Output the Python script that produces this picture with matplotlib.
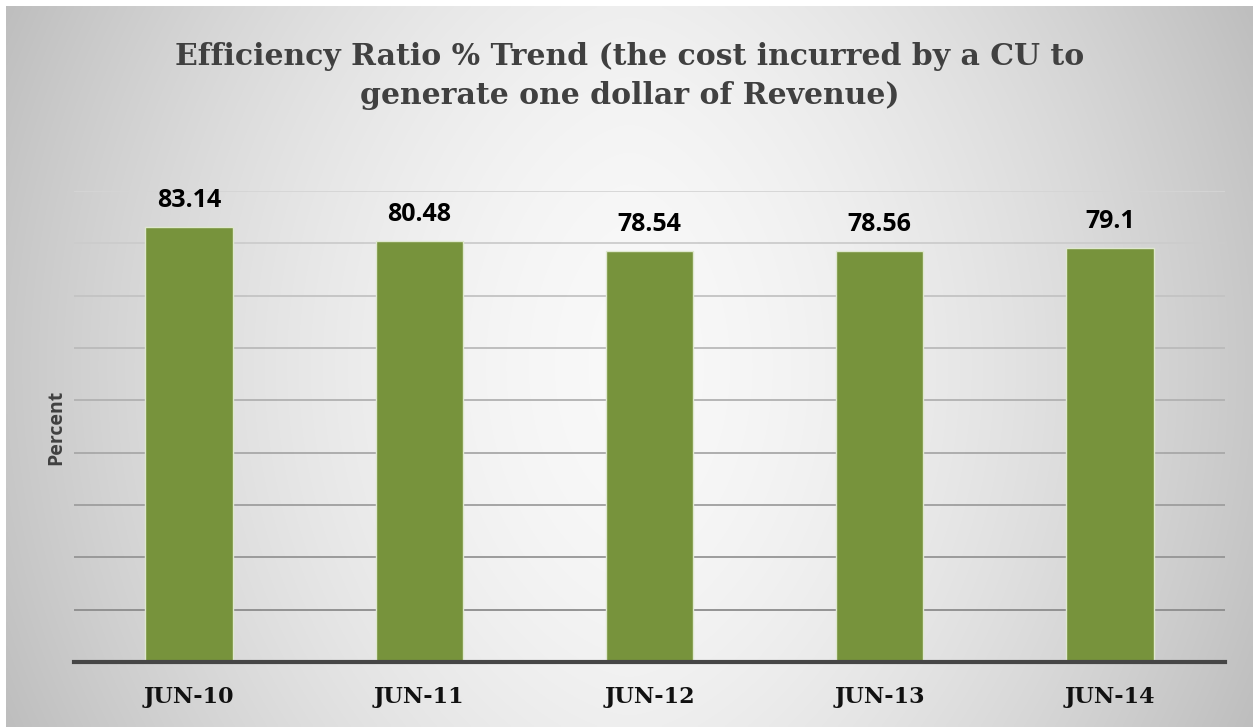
import matplotlib
matplotlib.use("Agg")
import matplotlib.pyplot as plt
import numpy as np

categories = ["JUN-10", "JUN-11", "JUN-12", "JUN-13", "JUN-14"]
values = [83.14, 80.48, 78.54, 78.56, 79.1]
value_labels = ["83.14", "80.48", "78.54", "78.56", "79.1"]
title_text = "Efficiency Ratio % Trend (the cost incurred by a CU to\ngenerate one dollar of Revenue)"
ylabel_text = "Percent"
y_max = 90
grid_values = [10, 20, 30, 40, 50, 60, 70, 80, 90]

W, H = 1253, 727
fig = plt.figure(figsize=(W / 100, H / 100), dpi=100)
fig.patch.set_facecolor("white")

# background gradient panel
bg = fig.add_axes([6 / W, 0, 1 - 6 / W, 1 - 6 / H], zorder=0)
bg.set_axis_off()
nx, ny = 400, 240
xx = np.linspace(-1, 1, nx)
yy = np.linspace(-1, 1, ny)
X, Y = np.meshgrid(xx, yy)
V = 0.975 - 0.19 * np.abs(X) ** 1.6 - 0.04 * Y ** 2
img = np.dstack([V, V, V])
bg.imshow(img, aspect="auto", extent=[0, 1, 0, 1], interpolation="bilinear")
bg.set_xlim(0, 1)
bg.set_ylim(0, 1)

left, right = 74 / W, 1225 / W
bottom, top = 1 - 662 / H, 1 - 191 / H
ax = fig.add_axes([left, bottom, right - left, top - bottom], zorder=1)
ax.patch.set_alpha(0)

x = np.arange(len(categories))
ax.set_xlim(-0.5, len(categories) - 0.5)
ax.set_ylim(0, y_max)

# gridlines darkening toward bottom
c_top = np.array([0.835, 0.835, 0.835])
c_bot = np.array([0.55, 0.55, 0.55])
for g in grid_values:
    t = (g - grid_values[0]) / (grid_values[-1] - grid_values[0])
    col = c_bot + (c_top - c_bot) * t
    ax.axhline(g, color=col, linewidth=1.3, zorder=1)

ax.bar(x, values, width=0.38, color="#77933C", edgecolor="#dfe8cf",
       linewidth=1.0, zorder=2)

for xi, v, lab in zip(x, values, value_labels):
    ax.annotate(lab, (xi, v), xytext=(0, 14.5), textcoords="offset points",
                ha="center", va="baseline", fontsize=18, fontweight="bold",
                family=["Open Sans", "DejaVu Sans"], color="black")

for s in ["top", "right", "left"]:
    ax.spines[s].set_visible(False)
ax.spines["bottom"].set_color("#464646")
ax.spines["bottom"].set_linewidth(3.0)
ax.spines["bottom"].set_zorder(3)
ax.set_yticks([])
ax.set_xticks(x)
ax.set_xticklabels(categories, fontsize=16, fontweight="bold",
                   family=["DejaVu Serif"], color="#111111")
ax.tick_params(axis="x", length=0, pad=17)

fig.text(56 / W, 1 - 427 / H, ylabel_text, rotation=90, ha="center", va="center",
         fontsize=14, fontweight="bold", family=["Open Sans", "DejaVu Sans"],
         color="#404040")

fig.text(630 / W, 1 - 76 / H, title_text, ha="center", va="center",
         fontsize=21.5, fontweight="bold", family=["DejaVu Serif"],
         color="#404040", linespacing=1.45)

fig.savefig("out.png", dpi=100, facecolor=fig.get_facecolor())
